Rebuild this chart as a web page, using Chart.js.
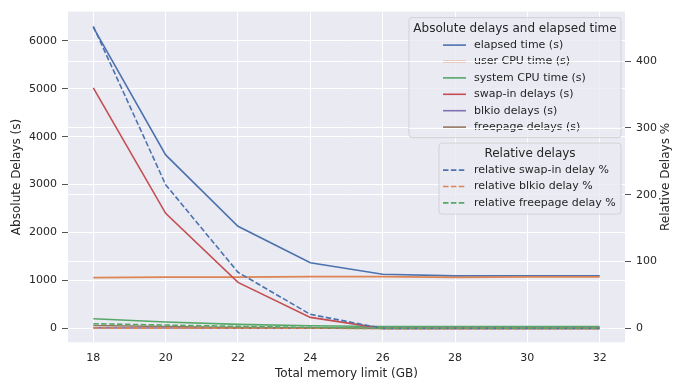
<!DOCTYPE html>
<html>
<head>
<meta charset="utf-8">
<script src="https://cdn.jsdelivr.net/npm/chart.js@4"></script>
<style>
  html, body { margin: 0; padding: 0; background: #fff; }
</style>
</head>
<body>
<canvas id="chart" width="673" height="385"></canvas>
<script>
// values
const memLimits = [18, 20, 22, 24, 26, 28, 30, 32];
const elapsedTime = [6280, 3620, 2130, 1370, 1130, 1095, 1100, 1100];
const userCpuTime = [1060, 1070, 1070, 1080, 1080, 1065, 1075, 1075];
const systemCpuTime = [200, 135, 85, 55, 40, 40, 40, 40];
const swapInDelays = [5020, 2400, 960, 230, 0, 0, 0, 0];
const blkioDelays = [10, 8, 5, 3, 2, 2, 2, 2];
const freepageDelays = [60, 40, 20, 10, 0, 0, 0, 0];
const relSwapIn = [452, 215, 84, 21, 0, 0, 0, 0];
const relBlkio = [0.5, 0.4, 0.3, 0.2, 0, 0, 0, 0];
const relFreepage = [7, 5, 3, 1.5, 0.3, 0.3, 0.3, 0.3];

const xTicks = [18, 20, 22, 24, 26, 28, 30, 32];
const leftTicks = [0, 1000, 2000, 3000, 4000, 5000, 6000];
const rightTicks = [0, 100, 200, 300, 400];

const BLUE = "#4c72b0", ORANGE = "#dd8452", GREEN = "#55a868",
      RED = "#c44e52", PURPLE = "#8172b3", BROWN = "#937860";
const TEXT = "#262626";
const FONT = "'DejaVu Sans', sans-serif";
const DASH = [5.5, 2.4];

function pts(vals) {
  return memLimits.map((x, i) => ({ x, y: vals[i] }));
}

function line(label, vals, color, axis, idx, dashed) {
  return {
    label,
    data: pts(vals),
    yAxisID: axis,
    borderColor: color,
    backgroundColor: color,
    borderWidth: 1.6,
    borderDash: dashed ? DASH : [],
    pointRadius: 0,
    tension: 0,
    fill: false,
    order: 20 - idx,
  };
}

const datasets = [
  line("elapsed time (s)", elapsedTime, BLUE, "y", 0),
  line("user CPU time (s)", userCpuTime, ORANGE, "y", 1),
  line("system CPU time (s)", systemCpuTime, GREEN, "y", 2),
  line("swap-in delays (s)", swapInDelays, RED, "y", 3),
  line("blkio delays (s)", blkioDelays, PURPLE, "y", 4),
  line("freepage delays (s)", freepageDelays, BROWN, "y", 5),
  line("relative swap-in delay %", relSwapIn, BLUE, "y1", 6, true),
  line("relative blkio delay %", relBlkio, ORANGE, "y1", 7, true),
  line("relative freepage delay %", relFreepage, GREEN, "y1", 8, true),
];

function fixTicks(list) {
  return (axis) => { axis.ticks = list.map((v) => ({ value: v })); };
}
const plain = (v) => String(v);

const bgPlugin = {
  id: "bg",
  beforeDraw(chart) {
    const { ctx, chartArea: a } = chart;
    ctx.save();
    ctx.fillStyle = "#eaeaf2";
    ctx.fillRect(a.left, a.top, a.right - a.left, a.bottom - a.top);
    ctx.restore();
  },
};

function roundBox(ctx, x, y, w, h, r) {
  ctx.beginPath();
  ctx.moveTo(x + r, y);
  ctx.arcTo(x + w, y, x + w, y + h, r);
  ctx.arcTo(x + w, y + h, x, y + h, r);
  ctx.arcTo(x, y + h, x, y, r);
  ctx.arcTo(x, y, x + w, y, r);
  ctx.closePath();
}

function drawLegend(chart, box, title, items) {
  const ctx = chart.ctx;
  ctx.save();
  roundBox(ctx, box.x, box.y, box.w, box.h, 3);
  ctx.fillStyle = "rgba(234,234,242,0.8)";
  ctx.fill();
  ctx.strokeStyle = "rgba(204,204,204,0.8)";
  ctx.lineWidth = 1;
  ctx.stroke();
  ctx.fillStyle = TEXT;
  ctx.textBaseline = "middle";
  ctx.textAlign = "center";
  ctx.font = "12px " + FONT;
  ctx.fillText(title, box.x + box.w / 2, box.y + 11);
  ctx.textAlign = "left";
  ctx.font = "11px " + FONT;
  const hx = box.hx;
  items.forEach((ds, i) => {
    const y = box.y + box.first + i * box.step;
    ctx.beginPath();
    ctx.setLineDash(ds.borderDash || []);
    ctx.strokeStyle = ds.borderColor;
    ctx.lineWidth = 1.6;
    ctx.moveTo(hx, y);
    ctx.lineTo(hx + 23, y);
    ctx.stroke();
    ctx.setLineDash([]);
    ctx.fillStyle = TEXT;
    ctx.fillText(ds.label, hx + 31, y);
  });
  ctx.restore();
}

const legendPlugin = {
  id: "twoLegends",
  afterDatasetsDraw(chart) {
    const a = chart.chartArea;
    const ctx = chart.ctx;
    const abs = chart.data.datasets.filter((d) => d.yAxisID === "y");
    const rel = chart.data.datasets.filter((d) => d.yAxisID === "y1");
    const right = a.right - 4;
    const hx = right - 178;
    const box1 = { x: right - 212, y: a.top + 6, w: 212, h: 120, hx, first: 27.5, step: 16.4 };
    drawLegend(chart, box1, "Absolute delays and elapsed time", abs);

    // grid of the twin axis sits over the first legend
    const y1 = chart.scales.y1;
    ctx.save();
    ctx.beginPath();
    ctx.rect(box1.x, box1.y, box1.w, box1.h);
    ctx.clip();
    ctx.strokeStyle = "#ffffff";
    ctx.lineWidth = 1;
    rightTicks.forEach((v) => {
      const py = Math.round(y1.getPixelForValue(v)) + 0.5;
      ctx.beginPath();
      ctx.moveTo(a.left, py);
      ctx.lineTo(a.right, py);
      ctx.stroke();
    });
    ctx.restore();

    const box2 = { x: right - 182, y: a.top + 131.5, w: 182, h: 71, hx, first: 27, step: 16.4 };
    drawLegend(chart, box2, "Relative delays", rel);
  },
  afterDraw(chart) {
    const a = chart.chartArea;
    const ctx = chart.ctx;
    ctx.save();
    ctx.fillStyle = TEXT;
    ctx.font = "12px " + FONT;
    ctx.textAlign = "center";
    ctx.textBaseline = "middle";
    ctx.translate(chart.width - 7, (a.top + a.bottom) / 2);
    ctx.rotate(-Math.PI / 2);
    ctx.fillText("Relative Delays %", 0, 0);
    ctx.restore();
  },
};

const tickFont = { family: FONT, size: 11 };

new Chart(document.getElementById("chart"), {
  type: "line",
  data: { datasets },
  plugins: [bgPlugin, legendPlugin],
  options: {
    responsive: false,
    animation: false,
    devicePixelRatio: 1,
    layout: { padding: { top: 9.5, left: 0, right: 0, bottom: 0 } },
    plugins: { legend: { display: false }, tooltip: { enabled: false } },
    scales: {
      x: {
        type: "linear",
        min: 17.3,
        max: 32.7,
        afterBuildTicks: fixTicks(xTicks),
        grid: { color: "#ffffff", lineWidth: 1, drawTicks: false },
        border: { display: false },
        ticks: { color: TEXT, font: tickFont, padding: 9.5, maxRotation: 0, callback: plain },
        title: { display: true, text: "Total memory limit (GB)", color: TEXT, font: { family: FONT, size: 12 }, padding: { top: 2, bottom: 4 } },
        afterFit: (s) => { s.height = 42.7; },
      },
      y: {
        type: "linear",
        position: "left",
        min: -290,
        max: 6610,
        afterBuildTicks: fixTicks(leftTicks),
        grid: { color: "#ffffff", lineWidth: 1, drawTicks: true, tickLength: 6, tickColor: "#555555" },
        border: { display: false },
        ticks: { color: TEXT, font: tickFont, padding: 5, callback: plain },
        title: { display: true, text: "Absolute Delays (s)", color: TEXT, font: { family: FONT, size: 12 }, padding: { top: 10, bottom: 4 } },
        afterFit: (s) => { s.width = 68; },
      },
      y1: {
        type: "linear",
        position: "right",
        min: -20.8,
        max: 474,
        afterBuildTicks: fixTicks(rightTicks),
        grid: { color: "#ffffff", lineWidth: 1, drawTicks: true, tickLength: 6, tickColor: "#555555" },
        border: { display: false },
        ticks: { color: TEXT, font: tickFont, padding: 5, callback: plain },
        afterFit: (s) => { s.width = 48; },
      },
    },
  },
});
</script>
</body>
</html>
